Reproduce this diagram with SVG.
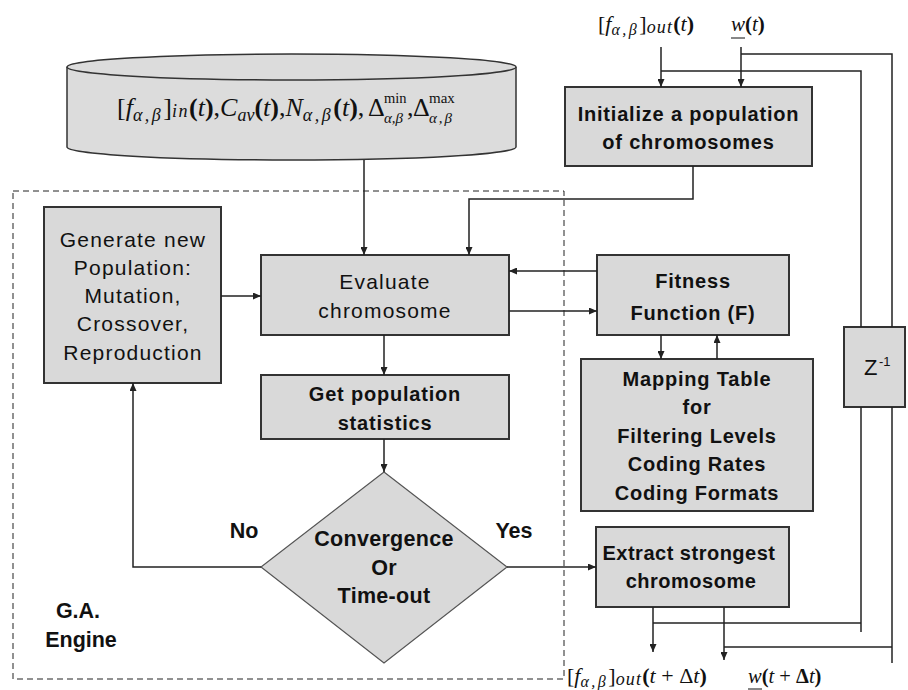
<svg xmlns="http://www.w3.org/2000/svg" width="908" height="690" viewBox="0 0 908 690">
<defs>
<marker id="ah" markerUnits="userSpaceOnUse" markerWidth="8" markerHeight="7" refX="8" refY="3.5" orient="auto">
<path d="M0,0 L8,3.5 L0,7 z" fill="#222"/>
</marker>
<style>
.box{fill:#d9d9d9;stroke:#333;stroke-width:2}
.bb{font-family:"Liberation Sans",Arial,sans-serif;font-weight:bold;font-size:20px;letter-spacing:0.8px;text-anchor:middle;fill:#111}
.rg{font-family:"Liberation Sans",Arial,sans-serif;font-size:21px;letter-spacing:1.2px;text-anchor:middle;fill:#111}
.ln{fill:none;stroke:#222;stroke-width:1.5}
.ar{fill:none;stroke:#222;stroke-width:1.5;marker-end:url(#ah)}
.m{font-family:"Liberation Serif","Times New Roman",serif;fill:#111}
.i{font-style:italic}
.b{font-weight:bold}
.gs{font-style:italic;letter-spacing:2.5px}
</style>
</defs>
<rect width="908" height="690" fill="#fff"/>

<g id="ga-engine">
<rect x="13" y="191" width="551" height="488" fill="none" stroke="#222" stroke-width="1" stroke-dasharray="6,4"/>
<text class="bb" x="78" y="618" style="font-size:21.5px;letter-spacing:0">G.A.</text>
<text class="bb" x="81" y="647" style="font-size:21.5px;letter-spacing:0">Engine</text>
</g>

<g id="database">
<path d="M67,67 L67,147 A224.5,13 0 0 0 516,147 L516,67" fill="#dcdcdc" stroke="#333" stroke-width="1.5"/>
<ellipse cx="291.5" cy="67" rx="224.5" ry="13" fill="#dcdcdc" stroke="#333" stroke-width="1.5"/>
<text class="m" x="117" y="116" font-size="26">[<tspan class="i">f</tspan><tspan class="gs" font-size="18" dy="5">α,β</tspan><tspan dy="-5">]</tspan><tspan class="i" font-size="18" dy="1" letter-spacing="1.5">in</tspan><tspan dy="-1" class="b">(</tspan><tspan class="i">t</tspan><tspan class="b">)</tspan>,<tspan class="i">C</tspan><tspan class="i" font-size="18" dy="5">av</tspan><tspan dy="-5" class="b">(</tspan><tspan class="i">t</tspan><tspan class="b">)</tspan>,<tspan class="i">N</tspan><tspan class="gs" font-size="18" dy="5">α,β</tspan><tspan dy="-5" class="b">(</tspan><tspan class="i">t</tspan><tspan class="b">)</tspan>,</text>
<g class="m" font-size="26">
<text x="368" y="116">Δ</text>
<text x="384" y="103" font-size="14.5">min</text>
<text x="384" y="123" class="i" font-size="15">α,β</text>
<text x="407" y="116">,</text>
<text x="413" y="116">Δ</text>
<text x="429" y="103" font-size="15">max</text>
<text x="429" y="123" class="i" font-size="15" letter-spacing="2">α,β</text>
</g>
</g>

<g id="inputs">
<text class="m" x="598" y="31" font-size="22">[<tspan class="i">f</tspan><tspan class="gs" font-size="16" dy="4" letter-spacing="4">α,β</tspan><tspan dy="-4">]</tspan><tspan class="i" font-size="18" dy="2" letter-spacing="1.2">out</tspan><tspan dy="-2" class="b">(</tspan><tspan class="i">t</tspan><tspan class="b">)</tspan></text>
<text class="m" x="731" y="31" font-size="21"><tspan class="i">w</tspan><tspan class="b">(</tspan><tspan class="i">t</tspan><tspan class="b">)</tspan></text>
<line x1="731" y1="38" x2="745" y2="38" stroke="#111" stroke-width="1"/>
</g>

<g id="outputs">
<text class="m" x="567" y="683" font-size="22">[<tspan class="i">f</tspan><tspan class="gs" font-size="16" dy="4" letter-spacing="4">α,β</tspan><tspan dy="-4">]</tspan><tspan class="i" font-size="18" dy="2" letter-spacing="1.2">out</tspan><tspan dy="-2" class="b">(</tspan><tspan class="i">t</tspan> + Δ<tspan class="i">t</tspan><tspan class="b">)</tspan></text>
<text class="m" x="748" y="683" font-size="20.5"><tspan class="i">w</tspan><tspan class="b">(</tspan><tspan class="i">t</tspan> + <tspan class="b">Δ</tspan><tspan class="i">t</tspan><tspan class="b">)</tspan></text>
<line x1="748" y1="689" x2="762" y2="689" stroke="#111" stroke-width="1"/>
</g>

<g id="init">
<rect class="box" x="565" y="87" width="247" height="79"/>
<text class="bb" x="688.5" y="121">Initialize a population</text>
<text class="bb" x="688.5" y="149">of chromosomes</text>
</g>

<g id="generate">
<rect class="box" x="44" y="207" width="177" height="176"/>
<text class="rg" x="133" y="247">Generate new</text>
<text class="rg" x="133" y="275">Population:</text>
<text class="rg" x="133" y="303">Mutation,</text>
<text class="rg" x="133" y="331">Crossover,</text>
<text class="rg" x="133" y="360">Reproduction</text>
</g>

<g id="evaluate">
<rect class="box" x="261" y="255" width="248" height="80"/>
<text class="rg" x="385" y="289">Evaluate</text>
<text class="rg" x="385" y="318">chromosome</text>
</g>

<g id="stats">
<rect class="box" x="261" y="375" width="248" height="64"/>
<text class="bb" x="385" y="401">Get population</text>
<text class="bb" x="385" y="430">statistics</text>
</g>

<g id="decision">
<polygon points="384,472 507,567 384,663 261,567" fill="#d9d9d9" stroke="#555" stroke-width="1.2"/>
<text class="bb" x="384" y="546" style="font-size:21.5px;letter-spacing:0.3px">Convergence</text>
<text class="bb" x="384" y="575" style="font-size:21.5px;letter-spacing:0.3px">Or</text>
<text class="bb" x="384" y="603" style="font-size:21.5px;letter-spacing:0.3px">Time-out</text>
<text class="bb" x="244" y="538" style="font-size:21.5px;letter-spacing:0">No</text>
<text class="bb" x="514" y="538" style="font-size:21.5px;letter-spacing:0">Yes</text>
</g>

<g id="fitness">
<rect class="box" x="597" y="255" width="192" height="80"/>
<text class="bb" x="693" y="288">Fitness</text>
<text class="bb" x="693" y="320">Function (F)</text>
</g>

<g id="mapping">
<rect class="box" x="581" y="359" width="232" height="152"/>
<text class="bb" x="697" y="386">Mapping Table</text>
<text class="bb" x="697" y="414">for</text>
<text class="bb" x="697" y="443">Filtering Levels</text>
<text class="bb" x="697" y="471">Coding Rates</text>
<text class="bb" x="697" y="500">Coding Formats</text>
</g>

<g id="extract">
<rect class="box" x="596" y="527" width="193" height="80"/>
<text class="bb" x="689" y="560" style="letter-spacing:0.5px">Extract strongest</text>
<text class="bb" x="691" y="588" style="letter-spacing:0.5px">chromosome</text>
</g>

<g id="delay">
<rect class="box" x="844" y="327" width="61" height="80"/>
<text x="864" y="375" font-family="Liberation Sans, Arial, sans-serif" font-size="22" fill="#111">Z</text>
<text x="879" y="366" font-family="Liberation Sans, Arial, sans-serif" font-size="13" fill="#111">-1</text>
</g>

<g id="connectors">
<line class="ar" x1="364" y1="160" x2="364" y2="255"/>
<polyline class="ar" points="693,166 693,199 469,199 469,255"/>
<line class="ar" x1="221" y1="296" x2="261" y2="296"/>
<line class="ar" x1="597" y1="271" x2="509" y2="271"/>
<line class="ar" x1="509" y1="311" x2="597" y2="311"/>
<line class="ar" x1="661" y1="335" x2="661" y2="359"/>
<line class="ar" x1="717" y1="359" x2="717" y2="335"/>
<line class="ar" x1="384" y1="335" x2="384" y2="375"/>
<line class="ar" x1="384" y1="439" x2="384" y2="472"/>
<polyline class="ar" points="261,567 133,567 133,383"/>
<line class="ar" x1="507" y1="567" x2="596" y2="567"/>
<line class="ar" x1="661" y1="47" x2="661" y2="87"/>
<line class="ar" x1="741" y1="47" x2="741" y2="87"/>
<polyline class="ln" points="741,54 892,54 892,327"/>
<polyline class="ln" points="661,71 861,71 861,327"/>
<line class="ln" x1="861" y1="407" x2="861" y2="632"/>
<line class="ln" x1="892" y1="407" x2="892" y2="663"/>
<line class="ar" x1="653" y1="607" x2="653" y2="652"/>
<line class="ln" x1="653" y1="623" x2="861" y2="623"/>
<line class="ar" x1="724" y1="607" x2="724" y2="660"/>
<line class="ln" x1="724" y1="647" x2="892" y2="647"/>
</g>
</svg>
